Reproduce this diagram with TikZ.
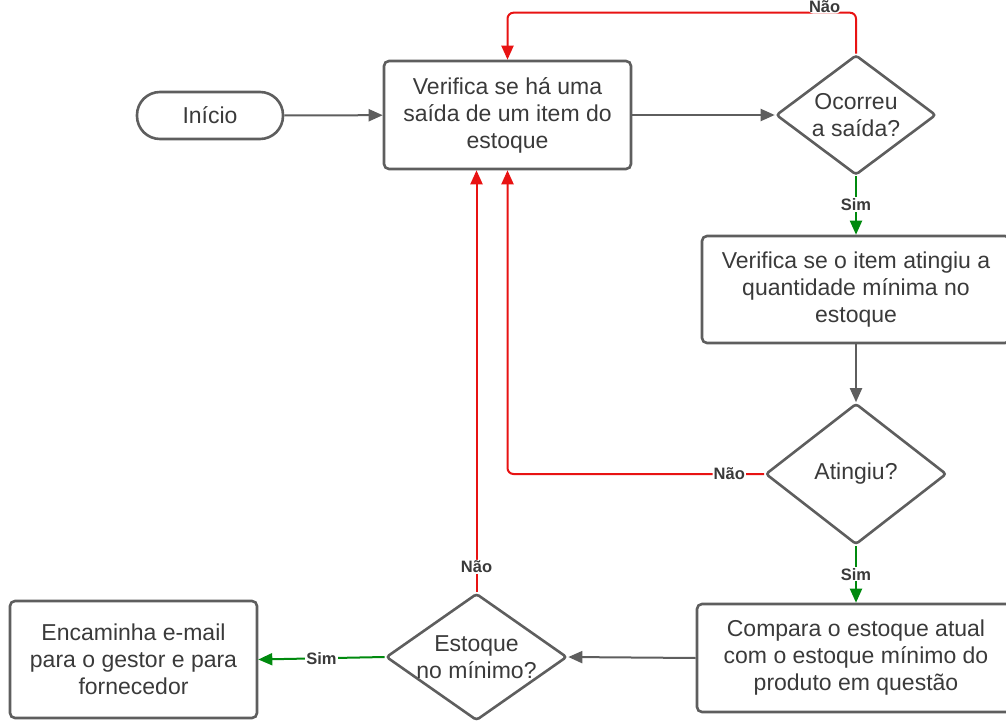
\documentclass[tikz,border=0pt]{standalone}
\usepackage{fontspec}
\setmainfont{Liberation Sans}
\usetikzlibrary{arrows.meta,%
                shapes.geometric}
\definecolor{linegray}{HTML}{5E5E5E}
\definecolor{textgray}{HTML}{3A3A3A}
\definecolor{naored}{HTML}{E81313}
\definecolor{simgreen}{HTML}{008A0E}

\tikzset{
  base/.style = {draw=linegray, line width=2.6pt, text=textgray, align=center,
                 font=\fontsize{23}{27}\selectfont, inner sep=0pt},
  startbox/.style = {base, rectangle, rounded corners=23pt, minimum width=146pt, minimum height=47pt},
  taskbox/.style = {base, rectangle, rounded corners=5pt},
  asktext/.style = {text=textgray, align=center, font=\fontsize{23}{27}\selectfont, inner sep=0pt},
  askbox/.style = {base, diamond, rounded corners=3pt, label={[asktext]center:#1}},
  flow/.style = {draw=linegray, line width=2pt, -{Triangle[length=14pt,width=12pt]}},
  yesflow/.style = {flow, draw=simgreen, -{Triangle[length=14pt,width=12pt,fill=simgreen]}},
  noflow/.style = {flow, draw=naored, rounded corners=6pt, -{Triangle[length=14pt,width=12pt,fill=naored]}},
  answer/.style = {fill=white, inner sep=1pt, text=textgray, font=\fontsize{16.5}{18}\selectfont\bfseries}
}

\begin{document}
\begin{tikzpicture}[x=1pt,y=-1pt]
	\useasboundingbox (0,0) rectangle (1006,722);

	\node[startbox] (inicio) at (210,115.5) {Início};
	\node[taskbox, minimum width=247pt, minimum height=108pt] (verifica) at (507.5,115)
		{Verifica se há uma\\saída de um item do\\estoque};
	\node[askbox={Ocorreu\\a saída?}, minimum width=160pt, minimum height=120pt] (ocorreu) at (856,115) {};
	\node[taskbox, minimum width=308pt, minimum height=107pt] (minimo) at (856,289.5)
		{Verifica se o item atingiu a\\quantidade mínima no\\estoque};
	\node[askbox={Atingiu?}, minimum width=181pt, minimum height=141pt] (atingiu) at (856,474) {};
	\node[taskbox, minimum width=318pt, minimum height=108pt] (compara) at (856,658)
		{Compara o estoque atual\\com o estoque mínimo do\\produto em questão};
	\node[askbox={Estoque\\no mínimo?}, minimum width=181pt, minimum height=127pt] (estoque) at (476.5,657) {};
	\node[taskbox, minimum width=247pt, minimum height=117pt] (email) at (133.5,659.5)
		{Encaminha e-mail\\para o gestor e para\\fornecedor};

	% main flow
	\draw[flow] (inicio) -- (verifica);
	\draw[flow] (verifica) -- (ocorreu);
	\draw[yesflow] (ocorreu) -- node[answer, yshift=1pt] {Sim} (minimo);
	\draw[flow] (minimo) -- (atingiu);
	\draw[yesflow] (atingiu) -- node[answer] {Sim} (compara);
	\draw[flow] (compara.west) -- (estoque.east);
	\draw[yesflow] (estoque.west) -- node[answer] {Sim} (email.west -| email.east);

	% loops back
	\draw[noflow] (ocorreu.north) -- ++(0,-41) -| node[answer, pos=0.045, yshift=6pt] {Não} (verifica.north);
	\draw[noflow] (atingiu.west) -| node[answer, pos=0.068] {Não} (verifica.south);
	\draw[noflow] (estoque.north) -- node[answer, pos=0.06] {Não} (estoque.north |- verifica.south);
\end{tikzpicture}
\end{document}
